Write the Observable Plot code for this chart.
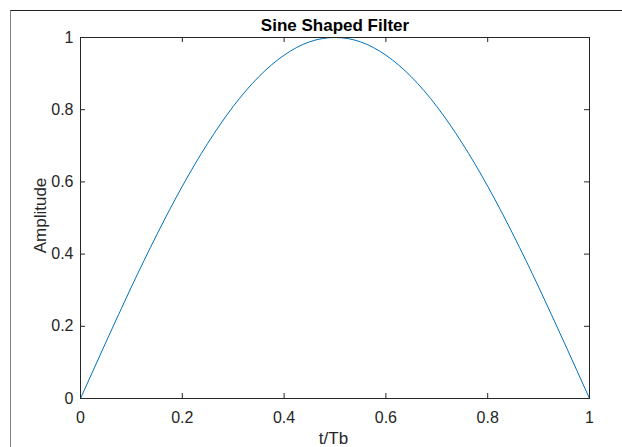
<!DOCTYPE html>
<html>
<head>
<meta charset="utf-8">
<script src="https://cdn.jsdelivr.net/npm/d3@7"></script>
<script src="https://cdn.jsdelivr.net/npm/@observablehq/plot@0.6"></script>
<style>
  html, body { margin: 0; padding: 0; background: #fff; }
  #wrap { position: relative; width: 622px; height: 447px; overflow: hidden; }
  #border { position: absolute; left: 10px; top: 10px; width: 700px; height: 500px;
            border-top: 1px solid #222; border-left: 1px solid #808080; box-sizing: border-box; }
  #chart { position: absolute; left: 0; top: 0; }
</style>
</head>
<body>
<div id="wrap"><div id="border"></div><div id="chart"></div></div>
<script>
const titleText = "Sine Shaped Filter";
const xLabelText = "t/Tb";
const yLabelText = "Amplitude";

const tValues = [0, 0.05, 0.1, 0.15, 0.2, 0.25, 0.3, 0.35, 0.4, 0.45, 0.5, 0.55, 0.6, 0.65, 0.7, 0.75, 0.8, 0.85, 0.9, 0.95, 1];
const amplitudeValues = [0, 0.156, 0.309, 0.454, 0.588, 0.707, 0.809, 0.891, 0.951, 0.988, 1, 0.988, 0.951, 0.891, 0.809, 0.707, 0.588, 0.454, 0.309, 0.156, 0];

const xTicks = [0, 0.2, 0.4, 0.6, 0.8, 1];
const xTickLabels = ["0", "0.2", "0.4", "0.6", "0.8", "1"];
const yTicks = [0, 0.2, 0.4, 0.6, 0.8, 1];
const yTickLabels = ["0", "0.2", "0.4", "0.6", "0.8", "1"];

const data = tValues.map((t, i) => ({t, a: amplitudeValues[i]}));
const xTickData = xTicks.map((v, i) => ({v, label: xTickLabels[i]}));
const yTickData = yTicks.map((v, i) => ({v, label: yTickLabels[i]}));

const W = 622, H = 447;
const mL = 80, mR = 33, mT = 37, mB = 49;
const innerW = W - mL - mR, innerH = H - mT - mB;
const tick = 5;
const axisColor = "#262626";
const font = "'Liberation Sans', Arial, Helvetica, sans-serif";

const chart = Plot.plot({
  width: W,
  height: H,
  marginLeft: mL,
  marginRight: mR,
  marginTop: mT,
  marginBottom: mB,
  style: {fontFamily: font, color: axisColor, background: "transparent"},
  x: {domain: [0, 1], axis: null},
  y: {domain: [0, 1], axis: null},
  marks: [
    Plot.line(data, {x: "t", y: "a", stroke: "#0072BD", strokeWidth: 1, curve: "natural"}),
    Plot.frame({stroke: axisColor, strokeWidth: 1}),
    Plot.tickX(xTicks, {x: d => d, stroke: axisColor, insetTop: innerH - tick}),
    Plot.tickX(xTicks, {x: d => d, stroke: axisColor, insetBottom: innerH - tick}),
    Plot.tickY(yTicks, {y: d => d, stroke: axisColor, insetRight: innerW - tick}),
    Plot.tickY(yTicks, {y: d => d, stroke: axisColor, insetLeft: innerW - tick}),
    Plot.text(xTickData, {x: "v", text: "label", frameAnchor: "bottom", textAnchor: "middle", lineAnchor: "bottom", dy: 24.5, fontSize: 16, fill: axisColor}),
    Plot.text(yTickData, {y: "v", text: "label", frameAnchor: "left", textAnchor: "end", lineAnchor: "middle", dx: -7, fontSize: 16, fill: axisColor}),
    Plot.text([xLabelText], {frameAnchor: "bottom", textAnchor: "middle", lineAnchor: "bottom", dy: 45.5, dx: -1.5, fontSize: 17, fill: axisColor}),
    Plot.text([yLabelText], {frameAnchor: "left", textAnchor: "middle", lineAnchor: "bottom", rotate: -90, dx: -35, dy: -2.5, fontSize: 17, fill: axisColor}),
    Plot.text([titleText], {frameAnchor: "top", textAnchor: "middle", lineAnchor: "bottom", dy: -7, fontSize: 17, fontWeight: "bold", fill: "#000"})
  ]
});
document.getElementById("chart").appendChild(chart);
</script>
</body>
</html>
